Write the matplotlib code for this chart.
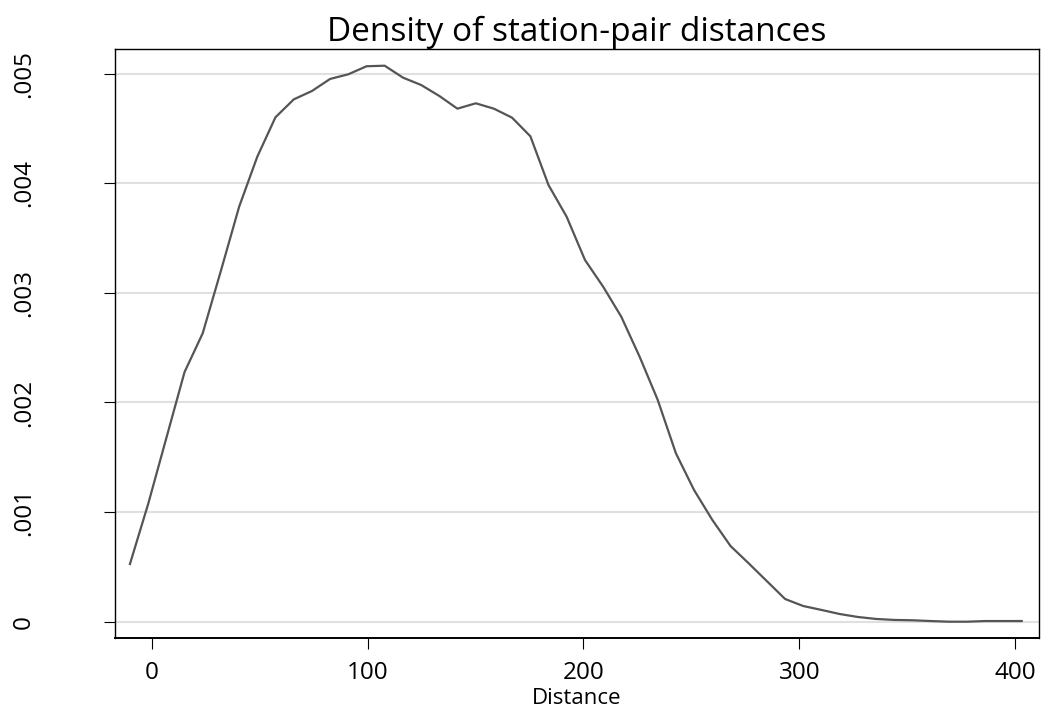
"""
Kernel density of station-pair distances (Stata-style look).
"""

import matplotlib
matplotlib.use("Agg")
import matplotlib.pyplot as plt

# ---- data (kdensity evaluation grid, 50 points) ----
distance = [-10.1, -1.7, 6.8, 15.2, 23.6, 32.1, 40.5, 48.9, 57.3, 65.8,
            74.2, 82.6, 91.1, 99.5, 107.9, 116.4, 124.8, 133.2, 141.6, 150.1,
            158.5, 166.9, 175.4, 183.8, 192.2, 200.7, 209.1, 217.5, 226.0, 234.4,
            242.8, 251.2, 259.7, 268.1, 276.5, 285.0, 293.4, 301.8, 310.3, 318.7,
            327.1, 335.5, 344.0, 352.4, 360.8, 369.3, 377.7, 386.1, 394.6, 403.0]

density = [0.000526, 0.001071, 0.001678, 0.002278, 0.002631, 0.003206, 0.003787,
           0.004243, 0.004602, 0.004766, 0.004842, 0.004952, 0.004995, 0.005068,
           0.005073, 0.004964, 0.004897, 0.004797, 0.004681, 0.004730, 0.004681,
           0.004599, 0.004429, 0.003984, 0.003695, 0.003300, 0.003057, 0.002783,
           0.002418, 0.002023, 0.001537, 0.001202, 0.000928, 0.000691, 0.000533,
           0.000369, 0.000207, 0.000143, 0.000107, 0.000070, 0.000043, 0.000025,
           0.000016, 0.000013, 0.000006, 0.000000, 0.000000, 0.000006, 0.000006,
           0.000006]

x_ticks = [0, 100, 200, 300, 400]
y_ticks = [0, 0.001, 0.002, 0.003, 0.004, 0.005]
y_tick_labels = ["0", ".001", ".002", ".003", ".004", ".005"]

title = "Density of station-pair distances"
x_label = "Distance"

# ---- figure ----
plt.rcParams['font.family'] = ['Open Sans', 'DejaVu Sans']

fig = plt.figure(figsize=(10.42, 7.11), dpi=100)
ax = fig.add_axes([0.1104, 0.1031, 0.8867, 0.8273])

ax.plot(distance, density, color='#555555', linewidth=1.6, zorder=3)

ax.set_xlim(-17.0, 411.0)
ax.set_ylim(-0.000146, 0.005221)

ax.set_xticks(x_ticks)
ax.set_xticklabels([str(t) for t in x_ticks])
ax.set_yticks(y_ticks)
ax.set_yticklabels(y_tick_labels, rotation=90, va='center')

# horizontal grid only, light grey like Stata s2color
ax.yaxis.grid(True, color='#e0e0e0', linewidth=1.5)
ax.xaxis.grid(False)
ax.set_axisbelow(True)

for side in ['left', 'top', 'right']:
    ax.spines[side].set_linewidth(1.0)
ax.spines['bottom'].set_linewidth(1.4)

ax.tick_params(axis='x', length=8, width=0.8, labelsize=17.5, pad=9)
ax.tick_params(axis='y', length=8, width=0.8, labelsize=17.5, pad=49)

ax.set_title(title, fontsize=24, pad=5)
ax.set_xlabel(x_label, fontsize=16, labelpad=2)

fig.savefig("out.png", dpi=100, facecolor='white')
plt.close(fig)
